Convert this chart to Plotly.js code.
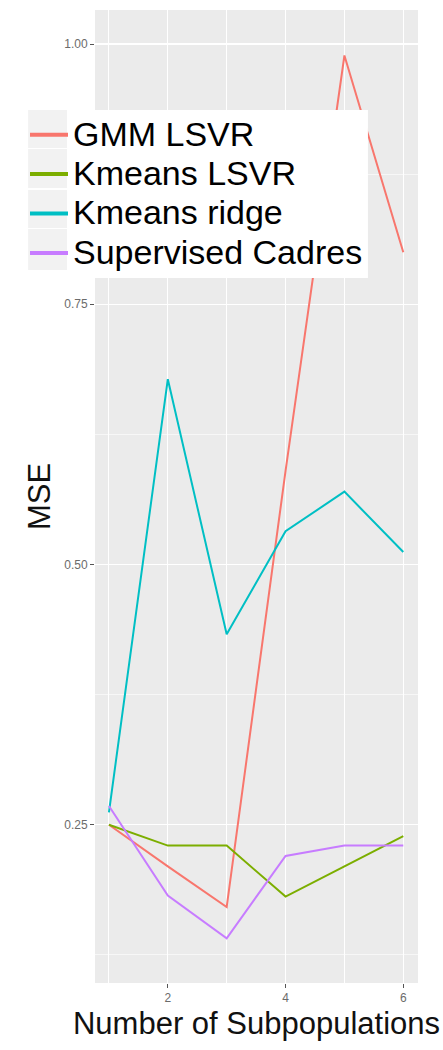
<!DOCTYPE html>
<html>
<head>
<meta charset="utf-8">
<script src="https://cdn.plot.ly/plotly-3.0.1.min.js"></script>
<style>
  html, body { margin: 0; padding: 0; background: #fff; }
  #chart { width: 443px; height: 1050px; }
</style>
</head>
<body>
<div id="chart"></div>
<script>
// datos
var subpoblaciones = [1, 2, 3, 4, 5, 6];
var gmmLsvr = [0.250, 0.210, 0.171, 0.590, 0.989, 0.800];
var kmeansLsvr = [0.250, 0.230, 0.230, 0.181, 0.210, 0.239];
var kmeansRidge = [0.262, 0.678, 0.433, 0.532, 0.570, 0.512];
var supervisedCadres = [0.268, 0.182, 0.141, 0.220, 0.230, 0.230];

var nombres = ["GMM LSVR", "Kmeans LSVR", "Kmeans ridge", "Supervised Cadres"];
var colores = ["#F8766D", "#7CAE00", "#00BFC4", "#C77CFF"];
var series = [gmmLsvr, kmeansLsvr, kmeansRidge, supervisedCadres];

var xTicks = [2, 4, 6];
var yTicks = [0.25, 0.50, 0.75, 1.00];

var data = [];
// lineas de datos
for (var i = 0; i < series.length; i++) {
    data.push({
        x: subpoblaciones,
        y: series[i],
        type: "scatter",
        mode: "lines",
        name: nombres[i],
        legendgroup: nombres[i],
        showlegend: false,
        line: { color: colores[i], width: 2 },
        hoverinfo: "skip"
    });
}
// entradas de la leyenda (linea mas gruesa como en ggplot)
for (var i = 0; i < series.length; i++) {
    data.push({
        x: [null],
        y: [null],
        type: "scatter",
        mode: "lines",
        name: '<span style="font-size:34px">' + nombres[i] + '</span>',
        legendgroup: nombres[i],
        line: { color: colores[i], width: 4 }
    });
}

// caja de la leyenda dibujada con shapes (fondo blanco + cuadros grises)
var shapes = [{
    type: "rect", xref: "paper", yref: "paper", layer: "above",
    x0: -0.207, x1: 0.845, y0: (983 - 278) / 973, y1: (983 - 110) / 973,
    fillcolor: "#ffffff", line: { width: 0 }
}];
var filas = [[110, 148], [149, 188], [190, 228], [229, 270]];
for (var i = 0; i < filas.length; i++) {
    shapes.push({
        type: "rect", xref: "paper", yref: "paper", layer: "above",
        x0: -0.207, x1: (67 - 95) / 323,
        y0: (983 - filas[i][1]) / 973, y1: (983 - filas[i][0]) / 973,
        fillcolor: "#F2F2F2", line: { width: 0 }
    });
}

var layout = {
    width: 443,
    height: 1050,
    margin: { l: 95, r: 25, t: 10, b: 67 },
    paper_bgcolor: "#ffffff",
    plot_bgcolor: "#EBEBEB",
    font: { family: "Liberation Sans, Arial, sans-serif", color: "#000" },
    showlegend: true,
    legend: {
        x: (25 - 95) / 323, y: (983 - 110) / 973, xanchor: "left", yanchor: "top",
        bgcolor: "rgba(0,0,0,0)",
        font: { size: 28, color: "#000" },
        itemwidth: 38,
        tracegroupgap: 0
    },
    xaxis: {
        range: [0.763, 6.25],
        tickvals: xTicks,
        ticks: "outside", ticklen: 4, tickcolor: "#555", tickwidth: 1,
        tickfont: { size: 12, color: "#6b6b6b" },
        showgrid: true, gridcolor: "#ffffff", gridwidth: 1.2,
        minor: { dtick: 1, tick0: 0, showgrid: true, gridcolor: "#ffffff", gridwidth: 1, ticks: "" },
        zeroline: false, showline: false,
        title: { text: "Number of Subpopulations", font: { size: 31, color: "#111" }, standoff: 7 }
    },
    yaxis: {
        range: [0.098, 1.0327],
        tickvals: yTicks,
        tickformat: ".2f",
        ticks: "outside", ticklen: 4, tickcolor: "#555", tickwidth: 1,
        tickfont: { size: 12, color: "#6b6b6b" },
        showgrid: true, gridcolor: "#ffffff", gridwidth: 1.2,
        minor: { dtick: 0.125, tick0: 0, showgrid: true, gridcolor: "#ffffff", gridwidth: 0.6, ticks: "" },
        zeroline: false, showline: false,
        title: { text: "MSE", font: { size: 31, color: "#111" }, standoff: 4 }
    },
    shapes: shapes
};

Plotly.newPlot("chart", data, layout, { staticPlot: true });
</script>
</body>
</html>
